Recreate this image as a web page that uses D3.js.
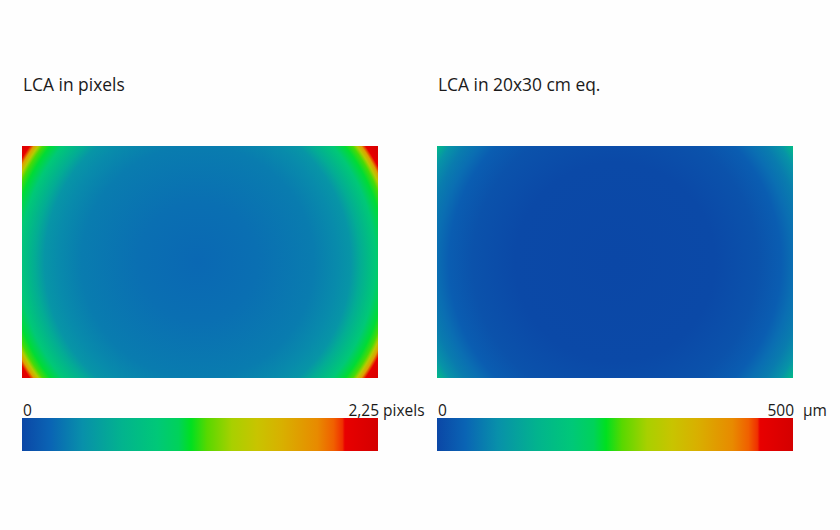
<!DOCTYPE html>
<html><head><meta charset="utf-8">
<script src="https://cdn.jsdelivr.net/npm/d3@7"></script>
<style>body{margin:0;background:#fff}svg{display:block}</style>
</head><body>
<svg id="c" width="840" height="530"></svg>
<script>
// ---- data ----
const titles = ["LCA in pixels", "LCA in 20x30 cm eq."];
const scaleMinLabels = ["0", "0"];
const scaleMaxLabels = ["2,25", "500"];
const unitLabels = ["pixels", "µm"];
const scaleMax = [2.25, 500];
// radial LCA profile: distance from optical centre (cm on a 20x30 cm print) and LCA value
const centreLeft = [-0.2, 0];
const radiusLeft = [0, 5.0, 9.8, 11.8, 12.9, 13.7, 15.0, 15.8, 16.3, 16.6, 16.9, 17.2, 17.5, 18.4];
const lcaLeft    = [0.20, 0.23, 0.29, 0.36, 0.42, 0.58, 0.86, 1.04, 1.15, 1.40, 1.75, 2.05, 2.14, 2.25];
const centreRight = [0, 0];
const radiusRight = [0, 8.4, 10, 12, 14, 15, 16, 17, 17.6, 18.0, 18.4];
const lcaRight    = [0, 3, 8, 15, 30, 50, 65, 90, 130, 175, 220];
// colour map stops (fraction of scale max -> colour)
const cmapPos = [0, 0.08, 0.17, 0.28, 0.38, 0.44, 0.475, 0.52, 0.59, 0.66, 0.73, 0.83, 0.875, 0.9, 0.907, 1];
const cmapCol = ["#0b47a6","#0a64b4","#0890aa","#02b38e","#00c878","#00d25a","#00e020","#58d800","#a8d000","#c8c400","#d8b000","#e88a00","#f06000","#f03000","#e80000","#d40000"];

const svg = d3.select("#c");
svg.append("rect").attr("width",840).attr("height",530).attr("fill","#fefefe");
const defs = svg.append("defs");
const cmap = d3.scaleLinear().domain(cmapPos).range(cmapCol).clamp(true);

const panels = [
  {x0:22, radius:radiusLeft, lca:lcaLeft, centre:centreLeft},
  {x0:437, radius:radiusRight, lca:lcaRight, centre:centreRight}
];
const W = 356, H = 232;
const f = "Open Sans, sans-serif";
panels.forEach((p, i) => {
  const sx = d3.scaleLinear().domain([-15, 15]).range([p.x0, p.x0 + W]);
  const sy = d3.scaleLinear().domain([-10, 10]).range([146, 146 + H]);
  const rMax = d3.max(p.radius);
  const rs = d3.scaleLinear().domain([0, rMax]).range([0, sx(rMax) - sx(0)]);
  const gid = "rg" + i;
  const g = defs.append("radialGradient").attr("id", gid)
    .attr("gradientUnits", "userSpaceOnUse")
    .attr("cx", sx(p.centre[0])).attr("cy", sy(p.centre[1])).attr("r", rs(rMax));
  p.radius.forEach((r, k) => {
    g.append("stop").attr("offset", r / rMax)
      .attr("stop-color", cmap(p.lca[k] / scaleMax[i]));
  });
  svg.append("rect").attr("x", sx(-15)).attr("y", sy(-10))
    .attr("width", sx(15) - sx(-15)).attr("height", sy(10) - sy(-10))
    .attr("fill", `url(#${gid})`);

  svg.append("text").attr("x", p.x0 + 1).attr("y", 91).text(titles[i])
    .attr("font-family", f).attr("font-size", 17.4).attr("fill", "#1a1a1a");

  // colour bar
  const lg = defs.append("linearGradient").attr("id", "lg" + i);
  cmapPos.forEach((t, k) => lg.append("stop").attr("offset", t).attr("stop-color", cmapCol[k]));
  const cb = d3.scaleLinear().domain([0, scaleMax[i]]).range([p.x0, p.x0 + W]);
  svg.append("rect").attr("x", cb(0)).attr("y", 418).attr("width", cb(scaleMax[i]) - cb(0)).attr("height", 33)
    .attr("fill", `url(#lg${i})`);
  svg.append("text").attr("x", cb(0) + 1).attr("y", 416).text(scaleMinLabels[i])
    .attr("font-family", f).attr("font-size", 15.5).attr("fill", "#1a1a1a");
  const unitGap = i === 0 ? 5 : 10;
  svg.append("text").attr("x", cb(scaleMax[i]) + 1).attr("y", 416).attr("text-anchor", "end")
    .text(scaleMaxLabels[i]).attr("font-family", f).attr("font-size", 15.5).attr("fill", "#1a1a1a");
  svg.append("text").attr("x", cb(scaleMax[i]) + unitGap).attr("y", 416).text(unitLabels[i])
    .attr("font-family", f).attr("font-size", 15.5).attr("fill", "#1a1a1a");
});
</script>
</body></html>
